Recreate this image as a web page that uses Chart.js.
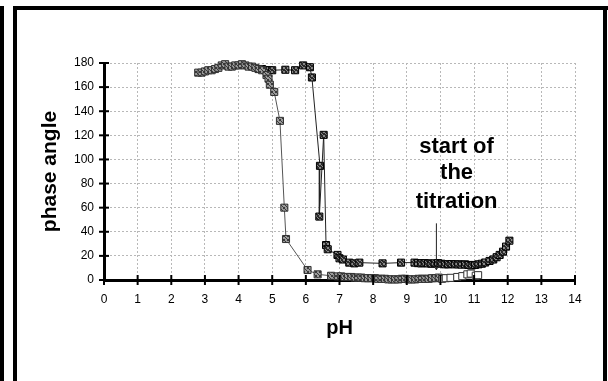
<!DOCTYPE html>
<html>
<head>
<meta charset="utf-8">
<script src="https://cdn.jsdelivr.net/npm/chart.js@4.4.1/dist/chart.umd.min.js"></script>
<style>
  html, body { margin: 0; padding: 0; background: #fff; }
  #wrap { position: relative; width: 608px; height: 381px; overflow: hidden; }
  #c { position: absolute; left: 0; top: 0; }
  .bar { position: absolute; background: #000; }
</style>
</head>
<body>
<div id="wrap">
  <canvas id="c" width="608" height="381"></canvas>
  <div class="bar" style="left:0;top:6px;width:4px;height:375px"></div>
  <div class="bar" style="left:13px;top:6px;width:4px;height:375px"></div>
  <div class="bar" style="left:13px;top:6px;width:595px;height:4px"></div>
  <div class="bar" style="left:603px;top:6px;width:4px;height:375px"></div>
</div>
<script>
// --- DATA ---
const xTicks = [0, 1, 2, 3, 4, 5, 6, 7, 8, 9, 10, 11, 12, 13, 14];
const yTicks = [0, 20, 40, 60, 80, 100, 120, 140, 160, 180];

// grey series: falls near pH 5.3
const phGrey = [2.8, 2.9, 3.0, 3.1, 3.2, 3.3, 3.4, 3.5, 3.6, 3.7, 3.8, 3.9, 4.0, 4.1, 4.2, 4.3, 4.4, 4.5, 4.6, 4.7,
  4.83, 4.89, 4.93, 5.06, 5.23, 5.36, 5.41, 6.05, 6.35, 6.75, 6.95, 7.05, 7.15, 7.25, 7.35, 7.45, 7.55, 7.65, 7.75,
  7.85, 7.95, 8.05, 8.15, 8.25, 8.35, 8.45, 8.55, 8.65, 8.75, 8.85, 8.95, 9.05, 9.15, 9.25, 9.35, 9.45, 9.55, 9.65,
  9.75, 9.85, 9.95];
const angGrey = [172, 172, 173, 174, 174, 175, 176, 178, 179, 177, 177, 178, 178, 179, 178, 177, 177, 176, 175, 174,
  170, 167, 162, 156, 132, 60, 34, 8.3, 4.7, 3.5, 3, 3, 2.5, 2.5, 2.5, 2, 2, 2, 1.5, 1.5,
  1.5, 1.5, 1, 1, 1, 0.5, 0.5, 0.5, 0.5, 1, 1, 0.5, 0.5, 0.5, 1, 1, 1, 1, 1.5, 1.5, 2];

// dark series: falls near pH 6.4
const phDark = [4.6, 4.7, 4.8, 4.9, 5.0, 5.39, 5.68, 5.92, 6.12, 6.18, 6.42, 6.4, 6.53, 6.6, 6.65, 6.94, 7.0, 7.1,
  7.29, 7.44, 7.59, 8.28, 8.83, 9.23, 9.33, 9.43, 9.53, 9.63, 9.73, 9.83, 9.93, 10.03, 10.13, 10.23, 10.33, 10.43,
  10.53, 10.63, 10.73, 10.83, 10.93, 11.03, 11.13, 11.23, 11.33, 11.46, 11.57, 11.67, 11.76, 11.86, 11.95, 12.05];
const angDark = [175, 175, 174, 174, 174, 174.4, 174, 178, 176.5, 168, 94.7, 52.6, 120.4, 29, 25.5, 20.8, 18, 17,
  14.4, 13.8, 14.4, 13.8, 14.4, 14.4, 14, 13.8, 14, 13.8, 13.5, 13.8, 14, 13.5, 13, 13, 13.2, 13, 13,
  12.8, 13, 12.5, 12, 12.5, 13, 13.5, 14.5, 15.8, 17, 18.9, 20.8, 23.5, 27.7, 32.6];

// open squares at the end of the grey series
const phOpen = [10.05, 10.16, 10.3, 10.5, 10.65, 10.8, 10.9, 11.05, 11.12];
const angOpen = [1, 1.5, 1.8, 2.5, 3.2, 4.7, 5.3, 3.5, 4];

const noteLines = ['start of', 'the', 'titration'];
const noteX = 10.48;
const noteY = [110.5, 88.9, 64.8];
const arrowX = 9.88;
const arrowFrom = 47;
const arrowTo = 8.5;

// --- PATTERNS for the hatched square markers ---
function hatch(bg, fg) {
  const p = document.createElement('canvas');
  p.width = 4; p.height = 4;
  const g = p.getContext('2d');
  g.fillStyle = bg; g.fillRect(0, 0, 4, 4);
  g.fillStyle = fg;
  g.fillRect(0, 0, 1, 1); g.fillRect(1, 1, 1, 1); g.fillRect(2, 2, 1, 1); g.fillRect(3, 3, 1, 1);
  g.fillRect(3, 0, 1, 1); g.fillRect(0, 3, 1, 1);
  return g.createPattern(p, 'repeat');
}

const FONT = 'Helvetica, Arial, "Liberation Sans", sans-serif';

const axisExtras = {
  id: 'axisExtras',
  afterDraw(chart) {
    const ctx = chart.ctx;
    const xs = chart.scales.x, ys = chart.scales.y;
    const ax = chart.chartArea.left, ay = chart.chartArea.bottom;
    ctx.save();
    ctx.strokeStyle = '#000';
    ctx.lineWidth = 2;
    xTicks.forEach(v => {
      const px = xs.getPixelForValue(v);
      ctx.beginPath(); ctx.moveTo(px, ay - 5); ctx.lineTo(px, ay + 5); ctx.stroke();
    });
    yTicks.forEach(v => {
      const py = ys.getPixelForValue(v);
      ctx.beginPath(); ctx.moveTo(ax - 5, py); ctx.lineTo(ax + 5, py); ctx.stroke();
    });
    // note
    ctx.fillStyle = '#000';
    ctx.font = 'bold 22px ' + FONT;
    ctx.textAlign = 'center';
    ctx.textBaseline = 'middle';
    noteLines.forEach((t, i) => {
      ctx.fillText(t, xs.getPixelForValue(noteX), ys.getPixelForValue(noteY[i]));
    });
    // arrow
    const axp = xs.getPixelForValue(arrowX);
    const y1 = ys.getPixelForValue(arrowFrom), y2 = ys.getPixelForValue(arrowTo);
    ctx.lineWidth = 1;
    ctx.strokeStyle = '#222';
    ctx.beginPath(); ctx.moveTo(axp, y1); ctx.lineTo(axp, y2); ctx.stroke();
    ctx.beginPath(); ctx.moveTo(axp - 3, y2 - 5); ctx.lineTo(axp, y2); ctx.lineTo(axp + 3, y2 - 5); ctx.stroke();
    ctx.restore();
  }
};

function pts(xs, ys) { return xs.map((x, i) => ({ x: x, y: ys[i] })); }

new Chart(document.getElementById('c'), {
  type: 'scatter',
  data: {
    datasets: [
      {
        label: 'open',
        data: pts(phOpen, angOpen),
        showLine: false,
        pointStyle: 'rect',
        pointRadius: 5,
        backgroundColor: '#fff',
        borderColor: '#333',
        borderWidth: 1,
        clip: false
      },
      {
        label: 'grey',
        data: pts(phGrey, angGrey),
        showLine: true,
        borderColor: '#555',
        borderWidth: 1,
        pointStyle: 'rect',
        pointRadius: 5,
        pointBackgroundColor: hatch('#9a9a9a', '#3a3a3a'),
        pointBorderColor: '#333',
        pointBorderWidth: 1,
        clip: false
      },
      {
        label: 'dark',
        data: pts(phDark, angDark),
        showLine: true,
        borderColor: '#222',
        borderWidth: 1,
        pointStyle: 'rect',
        pointRadius: 5,
        pointBackgroundColor: hatch('#2a2a2a', '#888'),
        pointBorderColor: '#000',
        pointBorderWidth: 1,
        clip: false
      }
    ]
  },
  options: {
    responsive: false,
    animation: false,
    layout: { padding: { left: 0, right: 33, top: 63, bottom: 0 } },
    plugins: { legend: { display: false }, tooltip: { enabled: false } },
    scales: {
      x: {
        type: 'linear',
        min: 0, max: 14,
        afterBuildTicks: s => { s.ticks = xTicks.map(v => ({ value: v })); },
        afterFit: s => { s.height = 101; },
        grid: { color: '#b8b8b8', lineWidth: 1, drawTicks: false },
        border: { display: true, color: '#000', width: 3, dash: [2, 2] },
        ticks: { color: '#000', padding: 12, font: { family: FONT, size: 12 } },
        title: { display: true, text: 'pH', color: '#000', font: { family: FONT, size: 20, weight: 'bold' },
          padding: { top: 0, bottom: 41 } }
      },
      y: {
        type: 'linear',
        min: 0, max: 180,
        afterBuildTicks: s => { s.ticks = yTicks.map(v => ({ value: v })); },
        afterFit: s => { s.width = 104; },
        grid: { color: '#b8b8b8', lineWidth: 1, drawTicks: false },
        border: { display: true, color: '#000', width: 3, dash: [2, 2] },
        ticks: { color: '#000', padding: 10, font: { family: FONT, size: 12 } },
        title: { display: true, text: 'phase angle', color: '#000', font: { family: FONT, size: 21, weight: 'bold' },
          padding: { top: 38, bottom: 0 } }
      }
    }
  },
  plugins: [axisExtras]
});
</script>
</body>
</html>
